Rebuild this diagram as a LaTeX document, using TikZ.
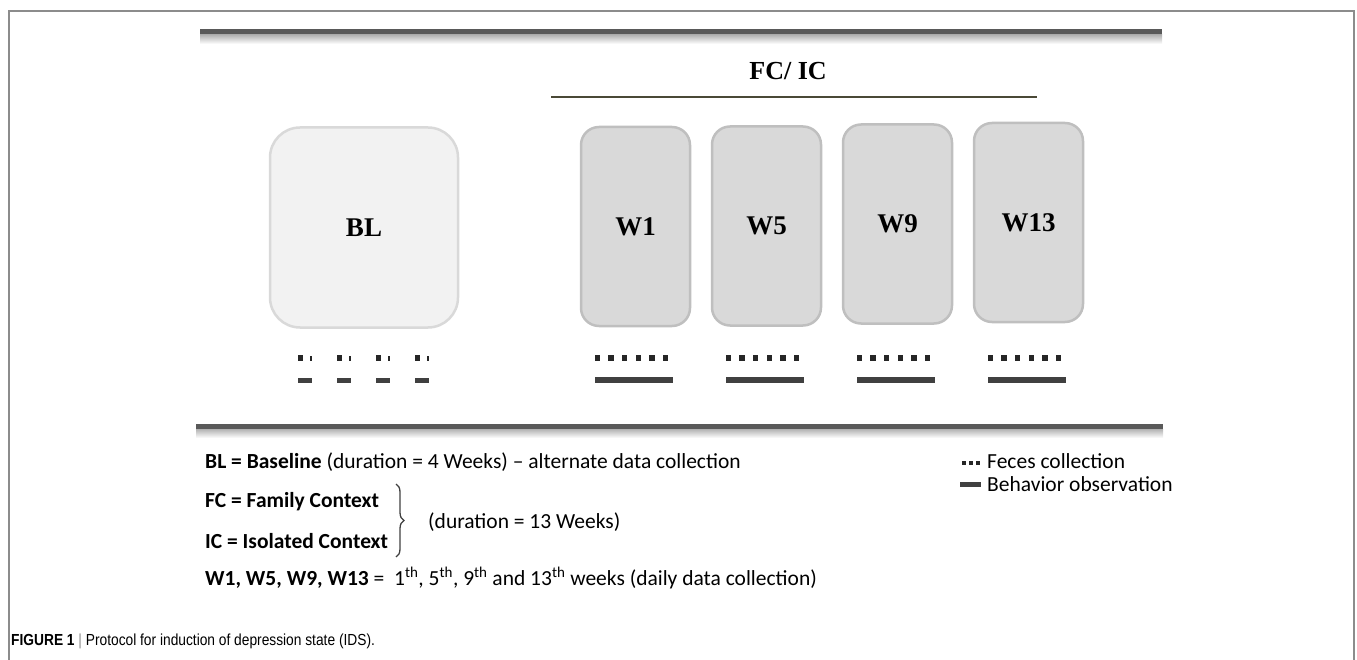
\documentclass[tikz,border=0pt]{standalone}
\usepackage{fontspec}
\setmainfont{Carlito}
\newfontfamily\boxfont{Liberation Serif}
\newfontfamily\capfont{Liberation Sans}
\usepackage{tikz}
\usetikzlibrary{decorations.pathreplacing}

\definecolor{framegray}{HTML}{8C8C8C}
\definecolor{rulegray}{HTML}{595959}
\definecolor{olivedark}{HTML}{4A4936}
\definecolor{weekfill}{HTML}{D9D9D9}
\definecolor{weekedge}{HTML}{BFBFBF}
\definecolor{basefill}{HTML}{F2F2F2}
\definecolor{baseedge}{HTML}{D9D9D9}
\definecolor{inkdark}{HTML}{262626}
\definecolor{bardark}{HTML}{404040}

\begin{document}
\begin{tikzpicture}[x=1pt, y=-1pt,
  every node/.style={inner sep=0pt},
  weekbox/.style={draw=weekedge, fill=weekfill, line width=2.5pt,
                  rounded corners=18pt, minimum width=109pt, minimum height=199pt,
                  font=\boxfont\bfseries\fontsize{27}{30}\selectfont},
  basebox/.style={weekbox, draw=baseedge, fill=basefill, rounded corners=30pt,
                  minimum width=188pt, minimum height=200pt},
  hrule/.style={line width=5pt, rulegray},
  fecesdot/.style={fill=inkdark, minimum width=5.5pt, minimum height=5.5pt},
  obsbar/.style={line width=6pt, bardark},
  legtxt/.style={anchor=base west, font=\fontsize{21.5}{26}\selectfont},
]
\useasboundingbox (0,0) rectangle (1357,660);

% page frame, open at the bottom
\draw[framegray, line width=1.5pt] (9,660) -- (9,11) -- (1354,11) -- (1354,660);

% top and bottom rules with a soft shadow
\fill[top color=black!30, bottom color=white] (200,35) rectangle (1162,44);
\draw[hrule] (200,32) -- (1162,32);
\fill[top color=black!30, bottom color=white] (196,429) rectangle (1163,438);
\draw[hrule] (196,426) -- (1163,426);

% FC/IC heading
\node[anchor=base, font=\boxfont\bfseries\fontsize{26}{30}\selectfont] (fcic) at (788,80) {FC/ IC};
\draw[olivedark, line width=2pt] (551,97) -- (1037,97);

% boxes
\node[basebox] (bl)  at (364,227.5)  {BL};
\node[weekbox] (w1)  at (635.5,226.5) {W1};
\node[weekbox] (w5)  at (766.5,226)   {W5};
\node[weekbox] (w9)  at (897.5,224)   {W9};
\node[weekbox] (w13) at (1028.5,222.5) {W13};

% baseline: alternate collection
\foreach \k in {0,...,3} {
  \node[fecesdot] at (300.5+39*\k,358) {};
  \fill[inkdark] (309.5+39*\k,355.5) rectangle (311.8+39*\k,360.5);
  \draw[obsbar, line width=5pt] (298+39*\k,380.5) -- (312+39*\k,380.5);
}

% weeks: daily collection
\foreach \bx in {581,712,843,974} {
  \foreach \k in {0,...,5}
    \node[fecesdot] at (\bx+16.5+13.6*\k,358) {};
  \draw[obsbar] (\bx+14,380) -- (\bx+92,380);
}

% key
\node[legtxt] (rowbl) at (205,468)
  {\textbf{BL = Baseline} (duration = 4 Weeks) -- alternate data collection};
\node[legtxt] (rowfc) at (205,507) {\textbf{FC = Family Context}};
\node[legtxt] (rowic) at (205,548) {\textbf{IC = Isolated Context}};
\draw[decorate, decoration={brace, amplitude=8pt}, line width=1.3pt, bardark]
  (396,484) -- (396,557);
\node[legtxt] (dur) at (428,528) {(duration = 13 Weeks)};
\node[legtxt] (roww) at (205,585)
  {\textbf{W1, W5, W9, W13} =\ \ 1\textsuperscript{th}, 5\textsuperscript{th},
   9\textsuperscript{th} and 13\textsuperscript{th} weeks (daily data collection)};

\foreach \k in {0,1,2}
  \node[fecesdot, minimum width=4.5pt, minimum height=4.5pt] at (964+7*\k,463) {};
\draw[obsbar, line width=5pt] (960,484) -- (981,484);
\node[legtxt] (feces) at (987,468) {Feces collection};
\node[legtxt] (behav) at (987,491) {Behavior observation};

% caption
\node[anchor=base west, font=\capfont\fontsize{16}{18}\selectfont] (cap) at (11,645)
  {\scalebox{0.86}[1]{\textbf{FIGURE 1} {\color{framegray}|} Protocol for induction of depression state (IDS).}};
\end{tikzpicture}
\end{document}
